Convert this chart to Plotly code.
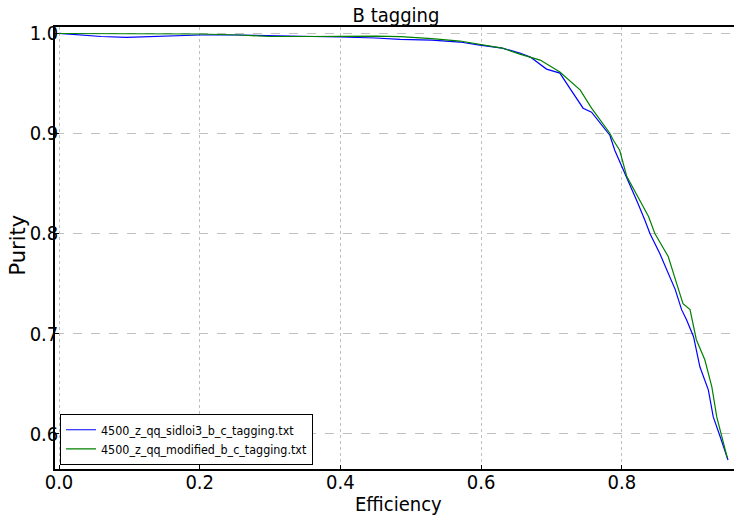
import plotly.graph_objects as go

# Blue series: 4500_z_qq_sidloi3_b_c_tagging.txt
eff_a = [0.0, 0.03, 0.06, 0.096, 0.15, 0.2, 0.25, 0.3, 0.35, 0.4, 0.45, 0.485, 0.53, 0.57,
         0.598, 0.63, 0.655, 0.67, 0.693, 0.712, 0.726, 0.745, 0.757, 0.769, 0.783, 0.79,
         0.8, 0.816, 0.823, 0.833, 0.84, 0.854, 0.868, 0.876, 0.885, 0.892, 0.902, 0.911,
         0.923, 0.93, 0.94, 0.951]
pur_a = [0.9997, 0.998, 0.9965, 0.9957, 0.997, 0.998, 0.998, 0.9975, 0.997, 0.996, 0.995, 0.9937, 0.993, 0.991,
         0.988, 0.985, 0.98, 0.976, 0.964, 0.96, 0.945, 0.925, 0.921, 0.91, 0.898, 0.883,
         0.867, 0.843, 0.83, 0.813, 0.8, 0.78, 0.757, 0.744, 0.724, 0.714, 0.697, 0.667,
         0.644, 0.617, 0.597, 0.574]

# Green series: 4500_z_qq_modified_b_c_tagging.txt
eff_b = [0.0, 0.05, 0.1, 0.15, 0.2, 0.257, 0.3, 0.35, 0.4, 0.45, 0.485, 0.53, 0.57, 0.598,
         0.63, 0.655, 0.674, 0.684, 0.712, 0.741, 0.757, 0.783, 0.788, 0.797, 0.807, 0.823,
         0.838, 0.847, 0.866, 0.878, 0.887, 0.897, 0.906, 0.918, 0.928, 0.935, 0.942, 0.95]
pur_b = [0.9995, 0.9993, 0.9993, 0.9992, 0.999, 0.998, 0.9965, 0.9965, 0.997, 0.9968, 0.9963, 0.9945, 0.992, 0.989,
         0.985, 0.979, 0.975, 0.973, 0.961, 0.943, 0.925, 0.9, 0.893, 0.883, 0.857, 0.837,
         0.817, 0.8, 0.777, 0.75, 0.73, 0.724, 0.694, 0.674, 0.647, 0.617, 0.597, 0.576]

x_ticks = [0.0, 0.2, 0.4, 0.6, 0.8]
x_labels = ["0.0", "0.2", "0.4", "0.6", "0.8"]
y_ticks = [0.6, 0.7, 0.8, 0.9, 1.0]
y_labels = ["0.6", "0.7", "0.8", "0.9", "1.0"]

cond = "DejaVu Sans Condensed, DejaVu Sans, sans-serif"

W, H = 734, 515
ML, MR, MT, MB = 55, 0, 27, 46

fig = go.Figure()
fig.add_trace(go.Scatter(x=eff_a, y=pur_a, mode="lines", line=dict(color="#0000ff", width=1.2),
                         name="4500_z_qq_sidloi3_b_c_tagging.txt"))
fig.add_trace(go.Scatter(x=eff_b, y=pur_b, mode="lines", line=dict(color="#008000", width=1.2),
                         name="4500_z_qq_modified_b_c_tagging.txt"))

fig.update_layout(
    width=W, height=H,
    margin=dict(l=ML, r=MR, t=MT, b=MB),
    paper_bgcolor="white", plot_bgcolor="white",
    title=dict(text="B tagging", x=396 / W, xanchor="center", y=1 - 15 / H, yanchor="middle",
               font=dict(family=cond, size=20, color="black")),
    showlegend=True,
    legend=dict(x=0.0074, y=0.124, xanchor="left", yanchor="top",
                bgcolor="white", bordercolor="black", borderwidth=1,
                font=dict(family=cond, size=12.4, color="black"),
                tracegroupgap=0, itemwidth=30),
    xaxis=dict(range=[-0.0057, 0.9595], tickvals=x_ticks, ticktext=x_labels,
               showline=True, linecolor="black", linewidth=1.5, mirror=True,
               showgrid=True, gridcolor="#c0c0c0", griddash="dot", gridwidth=1,
               zeroline=False, ticks="inside", ticklen=4, tickcolor="black",
               ticklabelstandoff=-6,
               tickfont=dict(family=cond, size=20, color="black")),
    yaxis=dict(range=[0.565, 1.006], tickvals=y_ticks, ticktext=y_labels,
               showline=True, linecolor="black", linewidth=1.5, mirror=False,
               showgrid=True, gridcolor="#c0c0c0", griddash="dash", gridwidth=1,
               zeroline=False, ticks="inside", ticklen=4, tickcolor="black",
               ticklabelstandoff=-9,
               tickfont=dict(family=cond, size=20, color="black")),
    annotations=[
        dict(text="Efficiency", xref="paper", yref="paper",
             x=(398 - ML) / (W - ML - MR), y=-(504 - (H - MB)) / (H - MT - MB),
             xanchor="center", yanchor="middle", showarrow=False,
             font=dict(family=cond, size=20, color="black")),
        dict(text="Purity", xref="paper", yref="paper", textangle=-90,
             x=-(ML - 17.5) / (W - ML - MR), y=1 - (245 - MT) / (H - MT - MB),
             xanchor="center", yanchor="middle", showarrow=False,
             font=dict(family="DejaVu Sans, sans-serif", size=21, color="black")),
    ],
)

fig.write_html("out.html")
